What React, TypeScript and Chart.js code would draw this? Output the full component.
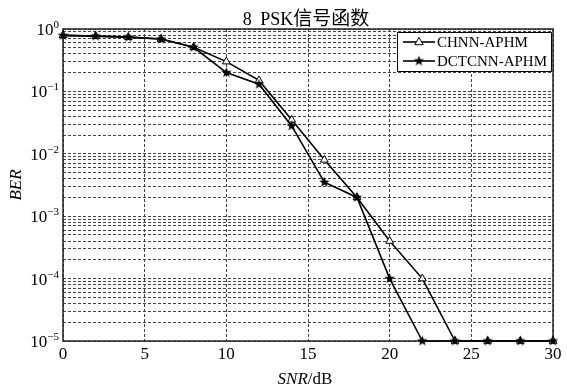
import React, { useEffect, useRef } from 'react';
import { Chart, registerables } from 'chart.js';
Chart.register(...registerables);

const snr = [0, 2, 4, 6, 8, 10, 12, 14, 16, 18, 20, 22, 24, 26, 28, 30];
const berChnn = [0.79, 0.77, 0.74, 0.69, 0.51, 0.3, 0.15, 0.035, 0.008, 0.002, 0.0004, 0.0001, 1e-5, 1e-5, 1e-5, 1e-5];
const berDct = [0.79, 0.77, 0.74, 0.69, 0.51, 0.2, 0.13, 0.028, 0.0035, 0.002, 0.0001, 1e-5, 1e-5, 1e-5, 1e-5, 1e-5];
const seriesNames = ['CHNN-APHM', 'DCTCNN-APHM'];
const xTicks = [0, 5, 10, 15, 20, 25, 30];
const yExponents = [0, -1, -2, -3, -4, -5];
const minorMultipliers = [1, 2, 3, 4, 5, 6, 7, 8, 9];
const titleLatin = '8 PSK';
const titleCjk = '信号函数';
const xTitleItalic = 'SNR';
const xTitleRest = '/dB';
const yTitle = 'BER';

const SERIF = '"Liberation Serif", "DejaVu Serif", serif';
const CJK = '"Noto Sans CJK SC", sans-serif';

function makeStar(r: number): HTMLCanvasElement {
  const c = document.createElement('canvas');
  const s = Math.ceil(r * 2 + 2);
  c.width = s;
  c.height = s;
  const ctx = c.getContext('2d')!;
  const cx = s / 2, cy = s / 2;
  ctx.beginPath();
  for (let i = 0; i < 10; i++) {
    const a = -Math.PI / 2 + (i * Math.PI) / 5;
    const rr = i % 2 === 0 ? r : r * 0.42;
    const px = cx + rr * Math.cos(a);
    const py = cy + rr * Math.sin(a);
    if (i === 0) ctx.moveTo(px, py); else ctx.lineTo(px, py);
  }
  ctx.closePath();
  ctx.fillStyle = '#000';
  ctx.fill();
  return c;
}

function drawTriangle(ctx: CanvasRenderingContext2D, x: number, y: number, r: number) {
  ctx.beginPath();
  ctx.moveTo(x, y - r);
  ctx.lineTo(x + r * 0.95, y + r * 0.6);
  ctx.lineTo(x - r * 0.95, y + r * 0.6);
  ctx.closePath();
  ctx.fillStyle = '#fff';
  ctx.fill();
  ctx.strokeStyle = '#000';
  ctx.lineWidth = 1;
  ctx.stroke();
}

export default function App() {
  const ref = useRef<HTMLCanvasElement>(null);
  useEffect(() => {
    const star = makeStar(5.5);
    const decorPlugin = {
      id: 'decor',
      beforeDatasetsDraw(chart: any) {
        const { ctx, chartArea: a } = chart;
        ctx.save();
        ctx.strokeStyle = '#222';
        ctx.lineWidth = 1.5;
        ctx.strokeRect(a.left, a.top, a.right - a.left, a.bottom - a.top);
        ctx.restore();
      },
      afterDraw(chart: any) {
        const { ctx, chartArea: a, scales } = chart;
        const xs = scales.x, ys = scales.y;
        ctx.save();
        ctx.fillStyle = '#000';
        // y tick labels
        for (const e of yExponents) {
          const y = ys.getPixelForValue(Math.pow(10, e));
          const sup = e === 0 ? '0' : '\u2212' + Math.abs(e);
          ctx.font = `11px ${SERIF}`;
          const sw = ctx.measureText(sup).width;
          const right = a.left - 4;
          ctx.textAlign = 'left';
          ctx.textBaseline = 'alphabetic';
          ctx.fillText(sup, right - sw, y - 1);
          ctx.font = `17px ${SERIF}`;
          ctx.textAlign = 'right';
          ctx.fillText('10', right - sw, y + 6);
        }
        // x tick labels
        ctx.font = `17px ${SERIF}`;
        ctx.textAlign = 'center';
        ctx.textBaseline = 'top';
        for (const t of xTicks) {
          ctx.fillText(String(t), xs.getPixelForValue(t), a.bottom + 5);
        }
        // x title
        ctx.textBaseline = 'alphabetic';
        ctx.font = `italic 17px ${SERIF}`;
        const w1 = ctx.measureText(xTitleItalic).width;
        ctx.font = `17px ${SERIF}`;
        const w2 = ctx.measureText(xTitleRest).width;
        const cx = (a.left + a.right) / 2 - 3;
        const sx = cx - (w1 + w2) / 2;
        ctx.textAlign = 'left';
        ctx.font = `italic 17px ${SERIF}`;
        ctx.fillText(xTitleItalic, sx, 384);
        ctx.font = `17px ${SERIF}`;
        ctx.fillText(xTitleRest, sx + w1, 384);
        // y title
        ctx.save();
        ctx.translate(21, (a.top + a.bottom) / 2);
        ctx.rotate(-Math.PI / 2);
        ctx.font = `italic 17px ${SERIF}`;
        ctx.textAlign = 'center';
        ctx.fillText(yTitle, 0, 0);
        ctx.restore();
        // title
        ctx.font = `18px ${SERIF}`;
        const t1 = ctx.measureText(titleLatin).width + 4;
        ctx.font = `19px ${CJK}`;
        const t2 = ctx.measureText(titleCjk).width;
        const tx = 306 - (t1 + t2) / 2;
        ctx.font = `18px ${SERIF}`;
        ctx.fillText(titleLatin.slice(0, 1), tx, 25);
        ctx.fillText(titleLatin.slice(1), tx + 4 + ctx.measureText(titleLatin.slice(0, 1)).width, 25);
        ctx.font = `19px ${CJK}`;
        ctx.fillText(titleCjk, tx + t1, 25);
        // legend
        const lx = a.right - 156, ly = a.top + 3, lw = 154, lh = 39;
        ctx.fillStyle = '#fff';
        ctx.fillRect(lx, ly, lw, lh);
        ctx.strokeStyle = '#000';
        ctx.lineWidth = 1;
        ctx.strokeRect(lx + 0.5, ly + 0.5, lw, lh);
        const rows = [ly + 10, ly + 29];
        ctx.font = `15px ${SERIF}`;
        ctx.textBaseline = 'middle';
        ctx.textAlign = 'left';
        rows.forEach((ry, i) => {
          ctx.strokeStyle = '#000';
          ctx.lineWidth = 1.6;
          ctx.beginPath();
          ctx.moveTo(lx + 6, ry);
          ctx.lineTo(lx + 38, ry);
          ctx.stroke();
          if (i === 0) drawTriangle(ctx, lx + 22, ry, 4.5);
          else ctx.drawImage(star, lx + 22 - star.width / 2, ry - star.height / 2);
          ctx.fillStyle = '#000';
          ctx.fillText(seriesNames[i], lx + 40, ry + 1);
        });
        ctx.restore();
      },
    };

    const chart = new Chart(ref.current!, {
      type: 'line',
      data: {
        datasets: [
          {
            label: seriesNames[0],
            data: snr.map((x, i) => ({ x, y: berChnn[i] })),
            borderColor: '#000',
            borderWidth: 1.6,
            pointStyle: 'triangle',
            pointRadius: 4.5,
            pointBackgroundColor: '#fff',
            pointBorderColor: '#000',
            pointBorderWidth: 1,
            clip: false as any,
            tension: 0,
            order: 1,
          },
          {
            label: seriesNames[1],
            data: snr.map((x, i) => ({ x, y: berDct[i] })),
            borderColor: '#000',
            borderWidth: 1.6,
            pointStyle: star as any,
            pointRadius: 5,
            clip: false as any,
            tension: 0,
            order: 0,
          },
        ],
      },
      options: {
        responsive: false,
        animation: false,
        events: [],
        layout: { padding: { left: 63, right: 14, top: 29, bottom: 47 } },
        plugins: { legend: { display: false }, title: { display: false }, tooltip: { enabled: false } },
        scales: {
          x: {
            type: 'linear',
            min: 0,
            max: 30,
            afterBuildTicks: (s: any) => { s.ticks = xTicks.map((v) => ({ value: v })); },
            ticks: { display: false },
            grid: { color: '#444', lineWidth: 1, drawTicks: false },
            border: { display: false, dash: [3, 2] },
          },
          y: {
            type: 'logarithmic',
            min: 1e-5,
            max: 1,
            afterBuildTicks: (s: any) => {
              const t: any[] = [];
              for (const e of yExponents) for (const m of minorMultipliers) {
                const v = m * Math.pow(10, e);
                if (v <= 1.000001 && v >= 0.999e-5) t.push({ value: v });
              }
              s.ticks = t;
            },
            ticks: { display: false },
            grid: { color: '#444', lineWidth: 1, drawTicks: false },
            border: { display: false, dash: [3, 2] },
          },
        },
      },
      plugins: [decorPlugin],
    });
    return () => chart.destroy();
  }, []);
  return (
    <div style={{ position: 'fixed', left: 0, top: 0, width: 567, height: 388, background: '#fff' }}>
      <canvas ref={ref} width={567} height={388} style={{ width: 567, height: 388, display: 'block' }} />
    </div>
  );
}
